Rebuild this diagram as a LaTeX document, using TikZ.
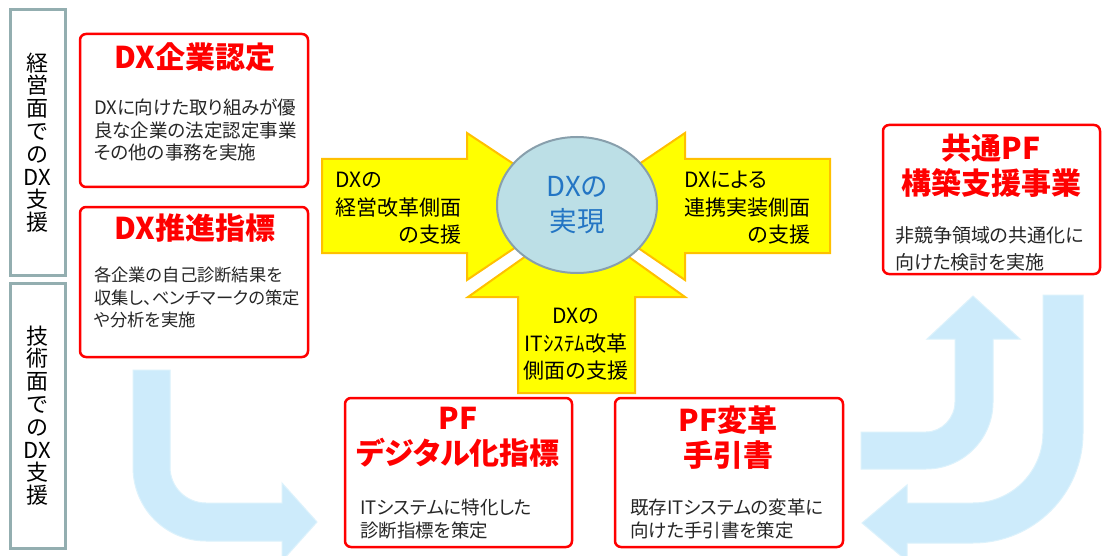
\documentclass[tikz,border=0pt]{standalone}
\usepackage{fontspec}
\setmainfont{Noto Sans CJK JP}[RawFeature=+palt]
\usetikzlibrary{shapes.geometric}
\definecolor{redc}{HTML}{FF0000}
\definecolor{graybox}{HTML}{93AEB0}
\definecolor{bodyc}{HTML}{262626}
\definecolor{yel}{HTML}{FFFF00}
\definecolor{yelb}{HTML}{FFC000}
\definecolor{lblue}{HTML}{CDEBFB}
\definecolor{lblueb}{HTML}{DCF2FC}
\definecolor{ellf}{HTML}{BCDFE6}
\definecolor{ellb}{HTML}{889FAC}
\definecolor{goalc}{HTML}{2375C4}
\begin{document}
\begin{tikzpicture}[x=1pt,y=-1pt,
  labelbox/.style={draw=graybox, line width=3pt, minimum width=55pt, minimum height=265pt, inner sep=0pt, align=center, font=\fontsize{22}{22.8}\selectfont, text=black},
  redbox/.style={draw=redc, line width=2.5pt, rounded corners=6pt, fill=white, inner sep=0pt},
  title/.style={text=redc, font=\fontsize{30}{35}\selectfont\bfseries, align=center, inner sep=0pt},
  body/.style={text=bodyc, font=\fontsize{18.5}{22.5}\selectfont, align=left, inner sep=0pt, anchor=west},
  yarrow/.style={fill=yel, draw=yelb, line width=2pt, line join=miter},
  barrow/.style={fill=lblue, draw=lblueb, line width=1pt},
  arrtext/.style={font=\fontsize{21}{27.5}\selectfont, inner sep=0pt, text=black}
]
\useasboundingbox (0,0) rectangle (1102,556);
\fill[white] (0,0) rectangle (1102,556);

% light blue flow arrows
\path[barrow] (133,370) -- (170,370) -- (170,467) .. controls (170,487) and (186,503) .. (206,503) -- (282,503) -- (282,483) -- (317,522) -- (282,561) -- (282,541) -- (206,541) .. controls (165.7,541) and (133,508.3) .. (133,467) -- cycle;
\path[barrow] (861,432) -- (926,432) .. controls (942,432) and (955,418) .. (955,402) -- (955,339) -- (927,339) -- (973,296) -- (1020,339) -- (993,339) -- (993,402) .. controls (993,439) and (963,469) .. (926,469) -- (861,469) -- cycle;
\path[barrow] (1043,295) -- (1083,295) -- (1083,433) .. controls (1083,493.75) and (1033.75,543) .. (973,543) -- (907,543) -- (907,561) -- (862,523) -- (907,485) -- (907,503) -- (973,503) .. controls (1011.7,503) and (1043,471.7) .. (1043,433) -- cycle;

% left labels
\node[labelbox] (lab1) at (37.5,142.5) {経\\営\\面\\で\\の\\DX\\支\\援};
\node[labelbox] (lab2) at (37.5,415.5) {技\\術\\面\\で\\の\\DX\\支\\援};

% yellow arrows
\path[yarrow] (322,159) -- (467,159) -- (467,133) -- (577,206) -- (467,280) -- (467,253) -- (322,253) -- cycle;
\path[yarrow] (830,159) -- (685,159) -- (685,133) -- (577,206) -- (685,280) -- (685,253) -- (830,253) -- cycle;
\path[yarrow] (518,393) -- (518,297) -- (468,297) -- (577,220) -- (685,297) -- (635,297) -- (635,393) -- cycle;

\node[ellipse, draw=ellb, fill=ellf, line width=2pt, minimum width=160pt, minimum height=136pt, inner sep=0pt, text=goalc, align=center, font=\fontsize{27.5}{35}\selectfont] (goal) at (577,205) {DXの\\実現};

\node[arrtext] (a1) at (398.5,209.5) {\begin{tabular}{@{}l@{}}DXの\\経営改革側面\\\multicolumn{1}{@{}r@{}}{の支援}\end{tabular}};
\node[arrtext] (a2) at (747.5,209.5) {\begin{tabular}{@{}l@{}}DXによる\\連携実装側面\\\multicolumn{1}{@{}r@{}}{の支援}\end{tabular}};
\node[arrtext, align=center] (a3) at (576,344.5) {DXの\\ITｼｽﾃﾑ改革\\側面の支援};

% red boxes
\node[redbox, minimum width=228pt, minimum height=153pt] (b1) at (194,110.5) {};
\node[redbox, minimum width=228pt, minimum height=150pt] (b2) at (194,282) {};
\node[redbox, minimum width=217pt, minimum height=149pt] (b3) at (991.5,199.5) {};
\node[redbox, minimum width=227pt, minimum height=149pt] (b4) at (458.5,472.5) {};
\node[redbox, minimum width=228pt, minimum height=149pt] (b5) at (729,472.5) {};

\node[title] (t1) at (195,57) {DX企業認定};
\node[title] (t2) at (195,228) {DX推進指標};
\node[title] (t3) at (991,165.5) {共通PF\\構築支援事業};
\node[title] (t4) at (458,437.5) {PF\\デジタル化指標};
\node[title] (t5) at (728,437.5) {PF変革\\手引書};

\node[body] (d1) at (94,130) {DXに向けた取り組みが優\\良な企業の法定認定事業\\その他の事務を実施};
\node[body, font=\fontsize{17.3}{22.5}\selectfont] (d2) at (94,297.5) {各企業の自己診断結果を\\収集し、ベンチマークの策定\\や分析を実施};
\node[body, font=\fontsize{19}{27}\selectfont] (d3) at (895,248.5) {非競争領域の共通化に\\向けた検討を実施};
\node[body] (d4) at (360,519) {ITシステムに特化した\\診断指標を策定};
\node[body] (d5) at (630,519) {既存ITシステムの変革に\\向けた手引書を策定};
\end{tikzpicture}
\end{document}
